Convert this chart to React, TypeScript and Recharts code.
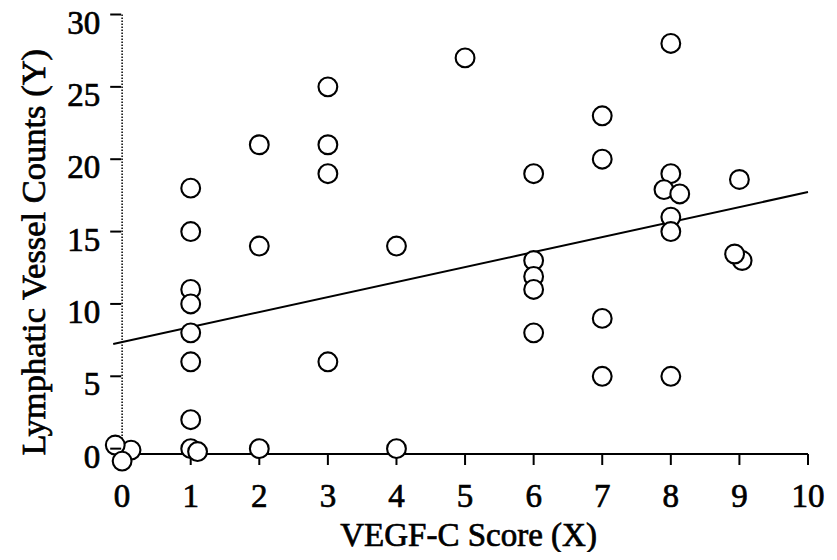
import { ScatterChart, Scatter, XAxis, YAxis, ReferenceLine, Label } from 'recharts';

// VEGF-C score (x) and lymphatic vessel count (y) per case
const vegfScore = [
  0.13, -0.1, 0,
  1, 1, 1, 1, 1, 1, 1, 1, 1.1,
  2, 2, 2,
  3, 3, 3, 3,
  4, 4,
  5,
  6, 6, 6, 6, 6,
  7, 7, 7, 7,
  8, 8, 7.9, 8.13, 8, 8, 8,
  9.04, 8.93, 9,
];
const vesselCount = [
  -0.1, 0.25, -0.86,
  18, 15, 11, 10, 8, 6, 2, 0, -0.2,
  21, 14, 0,
  25, 21, 19, 6,
  14, 0,
  27,
  19, 13, 11.9, 11, 8,
  23, 20, 9, 5,
  28, 19, 17.9, 17.6, 16, 15, 5,
  13, 13.45, 18.6,
];

const xTicks = [0, 1, 2, 3, 4, 5, 6, 7, 8, 9, 10];
const yTicks = [0, 5, 10, 15, 20, 25, 30];

// least squares fit, drawn across the plot
const fitX = [-0.13, 10];
const fitY = [7.23, 17.73];

const FONT = "'Liberation Serif', 'Times New Roman', serif";
// the original type is a heavier schoolbook face, thicken it a little
const HEAVY = { stroke: '#000', strokeWidth: 0.7 };

const points = vegfScore.map((x, i) => ({ x, y: vesselCount[i] }));

function OpenCircle(props: any) {
  return <circle cx={props.cx} cy={props.cy} r={9.4} fill="#fff" stroke="#000" strokeWidth={2.1} />;
}

function YTick({ x, y, payload }: any) {
  return (
    <g>
      <line x1={x - 3} x2={x + 8} y1={y} y2={y} stroke="#000" strokeWidth={2} />
      <text x={x - 13} y={y + 19} textAnchor="end" fontFamily={FONT} fontSize={33} fill="#000" {...HEAVY}>
        {payload.value}
      </text>
    </g>
  );
}

function XTitle({ viewBox }: any) {
  const { x, y, width, height } = viewBox;
  return (
    <text
      x={x + width / 2 + 8}
      y={y + height - 6}
      textAnchor="middle"
      fontFamily={FONT}
      fontSize={33}
      fill="#000"
      {...HEAVY}
    >
      VEGF-C Score (X)
    </text>
  );
}

function YTitle({ viewBox }: any) {
  const { x, y, height } = viewBox;
  const cx = x + 12;
  const cy = y + height / 2 + 18;
  return (
    <text
      x={cx}
      y={cy}
      transform={`rotate(-90 ${cx} ${cy})`}
      textAnchor="middle"
      fontFamily={FONT}
      fontSize={34.5}
      fill="#000"
      {...HEAVY}
    >
      Lymphatic Vessel Counts (Y)
    </text>
  );
}

export default function App() {
  return (
    // pulled up over the body margin so the top tick label has room inside the svg
    <div style={{ width: 821, height: 552, marginTop: -8, background: '#fff' }}>
      {/* points below zero sit under the x axis line, so don't clip them */}
      <style>{'.recharts-scatter{clip-path:none}'}</style>
      <ScatterChart width={821} height={552} margin={{ top: 14.5, right: 21, bottom: 0, left: 25.2 }}>
        <XAxis
          type="number"
          dataKey="x"
          domain={[-0.13, 10]}
          ticks={xTicks}
          interval={0}
          height={98}
          axisLine={{ stroke: '#000', strokeWidth: 2 }}
          tickLine={{ stroke: '#000', strokeWidth: 2 }}
          tickSize={11}
          tickMargin={19}
          tick={{ fill: '#000', fontSize: 33, fontFamily: FONT, ...HEAVY }}
        >
          <Label content={XTitle} />
        </XAxis>
        <YAxis
          type="number"
          dataKey="y"
          domain={[-0.37, 30]}
          allowDataOverflow
          ticks={yTicks}
          interval={0}
          width={80}
          axisLine={false}
          tickLine={false}
          tickSize={0}
          tickMargin={0}
          tick={<YTick />}
        >
          <Label content={YTitle} />
        </YAxis>
        <ReferenceLine x={0} stroke="#000" strokeWidth={1.5} strokeDasharray="1.5 1.5" />
        <ReferenceLine
          segment={[
            { x: fitX[0], y: fitY[0] },
            { x: fitX[1], y: fitY[1] },
          ]}
          stroke="#000"
          strokeWidth={2}
        />
        <Scatter data={points} shape={OpenCircle} isAnimationActive={false} />
      </ScatterChart>
    </div>
  );
}
